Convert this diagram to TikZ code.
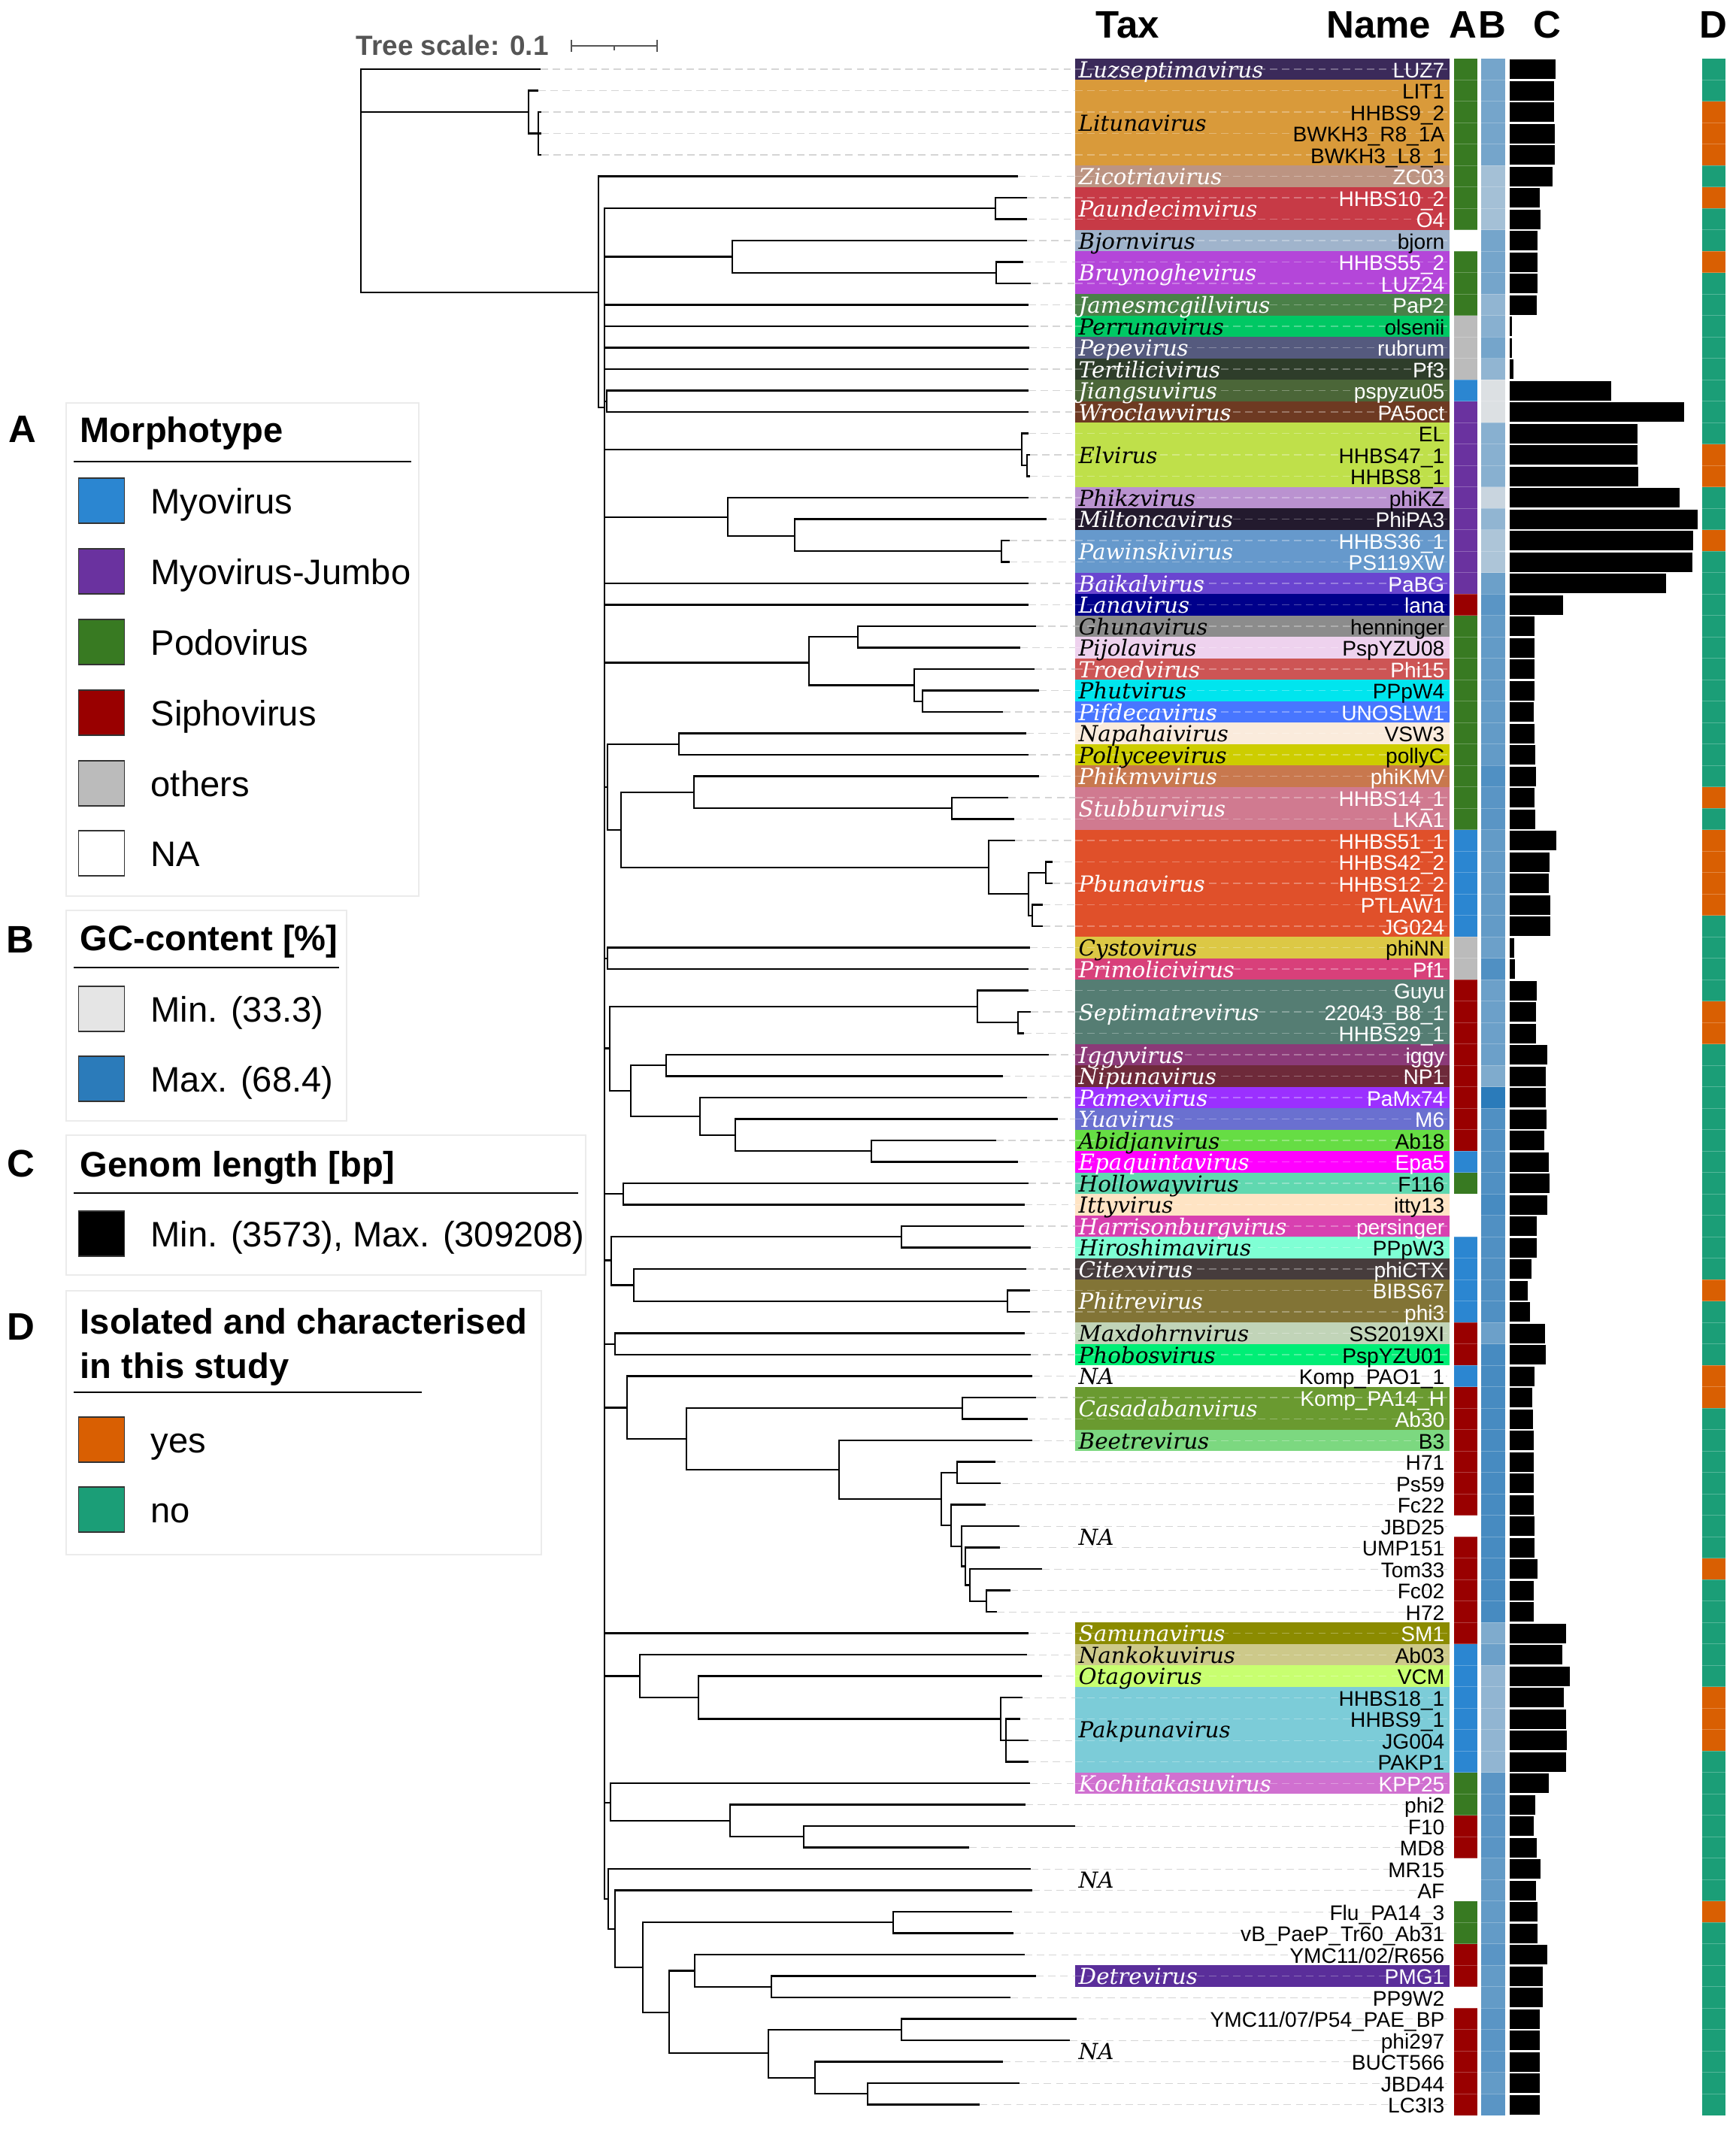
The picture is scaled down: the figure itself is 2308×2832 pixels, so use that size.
\documentclass[tikz,border=0pt]{standalone}
\usepackage{fontspec}
\setmainfont{Liberation Sans}
\newfontfamily\taxfont{DejaVu Serif}
\usetikzlibrary{calc}

%% row position (pixels, rows counted from 1)
\pgfmathdeclarefunction{rowy}{1}{\pgfmathparse{92+(#1-1)*28.5}}

\definecolor{legline}{HTML}{EBEBEB}
\definecolor{leader}{HTML}{D5D5D5}
\definecolor{scalegray}{HTML}{555555}
\definecolor{amy}{HTML}{2B86D1}
\definecolor{ajm}{HTML}{6A329F}
\definecolor{apo}{HTML}{387A22}
\definecolor{asi}{HTML}{990000}
\definecolor{aot}{HTML}{BBBBBB}
\colorlet{ana}{white}
\definecolor{gcmin}{HTML}{E5E5E5}
\definecolor{gcmax}{HTML}{2B7BBA}
\definecolor{dy}{HTML}{D95F02}
\definecolor{dn}{HTML}{1B9E77}
\colorlet{tw}{white}
\colorlet{tb}{black}

%% taxonomy bands: first row/last row/label/colour/text colour
\def\taxbands{1/1/Luzseptimavirus/3B2A5A/w,2/5/Litunavirus/D99A3A/b,
	6/6/Zicotriavirus/BC9482/w,7/8/Paundecimvirus/C73A46/w,9/9/Bjornvirus/A0B4CC/b,
	10/11/Bruynoghevirus/B446D9/w,12/12/Jamesmcgillvirus/4A8048/w,13/13/Perrunavirus/00C864/b,
	14/14/Pepevirus/555A7E/w,15/15/Tertilicivirus/2E3D2A/w,16/16/Jiangsuvirus/4B6638/w,
	17/17/Wroclawvirus/6E3A22/w,18/20/Elvirus/BFE04A/b,21/21/Phikzvirus/BA92D0/b,
	22/22/Miltoncavirus/231A2E/w,23/24/Pawinskivirus/6699CC/w,25/25/Baikalvirus/6A45D0/w,
	26/26/Lanavirus/00008B/w,27/27/Ghunavirus/8C8C8C/b,28/28/Pijolavirus/EED2EE/b,
	29/29/Troedvirus/CD5555/w,30/30/Phutvirus/00E5EE/b,31/31/Pifdecavirus/4876FF/w,
	32/32/Napahaivirus/FAEBDC/b,33/33/Pollyceevirus/CDCD00/b,34/34/Phikmvvirus/C8784E/w,
	35/36/Stubburvirus/D07A90/w,37/41/Pbunavirus/E0502A/w,42/42/Cystovirus/DCC845/b,
	43/43/Primolicivirus/D8407A/w,44/46/Septimatrevirus/557D73/w,47/47/Iggyvirus/8B3A78/w,
	48/48/Nipunavirus/6E2A3A/w,49/49/Pamexvirus/9B30FF/w,50/50/Yuavirus/6A70D0/w,
	51/51/Abidjanvirus/66DD44/b,52/52/Epaquintavirus/FF00FF/w,53/53/Hollowayvirus/60D8B0/b,
	54/54/Ittyvirus/FFE4C4/b,55/55/Harrisonburgvirus/D840B0/w,56/56/Hiroshimavirus/7FFFD4/b,
	57/57/Citexvirus/463C3C/w,58/59/Phitrevirus/827436/w,60/60/Maxdohrnvirus/C1D4B8/b,
	61/61/Phobosvirus/00EE76/b,63/64/Casadabanvirus/6A9A30/w,65/65/Beetrevirus/7CD880/b,
	74/74/Samunavirus/8B8B00/w,75/75/Nankokuvirus/CDC98A/b,76/76/Otagovirus/C8FF70/b,
	77/80/Pakpunavirus/7CCCD8/b,81/81/Kochitakasuvirus/D070D0/w,90/90/Detrevirus/5A2E9A/w}

\begin{document}
\begin{tikzpicture}[x=0.01cm,y=-0.01cm]
		\tikzstyle{branch}=[line width=0.65pt,line join=miter]
		\tikzstyle{leadline}=[leader,line width=0.3pt,dash pattern=on 2.8pt off 1.8pt]
		\tikzstyle{leadwhite}=[white,opacity=.3,line width=0.3pt,dash pattern=on 2.8pt off 1.8pt]
		\tikzstyle{namelbl}=[font=\fontsize{8}{8}\selectfont,inner sep=0pt,anchor=base east]
		\tikzstyle{taxlbl}=[font=\taxfont\itshape\fontsize{8.35}{8.35}\selectfont,inner sep=0pt,anchor=base west]
		\tikzstyle{colhead}=[font=\bfseries\fontsize{14.5}{14.5}\selectfont,inner sep=0pt,anchor=base]
		\tikzstyle{letter}=[font=\bfseries\fontsize{14.5}{14.5}\selectfont,inner sep=0pt]
		\tikzstyle{legbox}=[draw=legline,line width=0.6pt]
		\tikzstyle{legtitle}=[font=\bfseries\fontsize{13.4}{13.4}\selectfont,inner sep=0pt,anchor=base west]
		\tikzstyle{legentry}=[font=\fontsize{13.4}{13.4}\selectfont,inner sep=0pt,anchor=base west]
		\tikzstyle{swatch}=[draw=black!80,line width=0.5pt,minimum width=0.61cm,minimum height=0.6cm,inner sep=0pt]
		\fill[white] (0,0) rectangle (2308,2832);
		\useasboundingbox (0,0) rectangle (2308,2832);
		%% tree scale
		\node[font=\bfseries\fontsize{10.5}{10.5}\selectfont,text=scalegray,inner sep=0pt,anchor=base west] (tscale) at (473,73) {Tree scale: 0.1};
		\coordinate (sbl) at (760,61);
		\coordinate (sbr) at (874,61);
		\draw[scalegray,line width=0.6pt] ($(sbl)+(0,-8)$) -- ($(sbl)+(0,8)$) (sbl) -- (sbr) ($(sbr)+(0,-8)$) -- ($(sbr)+(0,8)$);
		\draw[scalegray,line width=0.6pt] ($(sbl)!.5!(sbr)$) -- ++(0,6);
		%% tips
		\foreach \i/\x in {1/719,2/716,3/720,4/720,5/720,6/1354,7/1366,8/1366,9/1366,10/1361,
			11/1371,12/1368,13/1368,14/1369,15/1368,16/1368,17/1368,18/1368,19/1370,20/1370,
			21/1368,22/1392,23/1343,24/1343,25/1368,26/1368,27/1378,28/1357,29/1376,30/1382,
			31/1334,32/1365,33/1368,34/1382,35/1341,36/1349,37/1350,38/1400,39/1400,40/1387,
			41/1387,42/1370,43/1368,44/1368,45/1371,46/1362,47/1395,48/1334,49/1366,50/1407,
			51/1325,52/1354,53/1368,54/1363,55/1362,56/1371,57/1365,58/1370,59/1370,60/1363,
			61/1371,62/1373,63/1378,64/1367,65/1373,66/1324,67/1331,68/1311,69/1356,70/1330,
			71/1386,72/1344,73/1326,74/1368,75/1366,76/1386,77/1360,78/1357,79/1368,80/1368,
			81/1370,82/1364,83/1430,84/1289,85/1371,86/1373,87/1346,88/1348,89/1363,90/1378,
			91/1344,92/1432,93/1423,94/1334,95/1356,96/1303}
			\coordinate (t\i) at (\x,{rowy(\i)});
		%% inner nodes (name/x/row)
		\foreach \n/\x/\r in {root/480/6,lit/703/3,lit2/716/4,core/796/11.42,spine/804/16.8,
			paun/1324/7.5,bjo/974/9.75,bruy/1325/10.5,jia/807/16.5,elv/1359/18.75,elv2/1366/19.5,
			kz/968/21.9,kz2/1057/22.8,pawi/1332/23.5,ghu/1076/28.7,ghu1/1141/27.5,ghu2/1216/29.75,
			ghu3/1227/30.5,pod/808/34.5,napa/903/32.5,kmv/826/36.5,kmv1/923/34.75,stub/1266/35.5,
			pbu/1315/38.25,pbu1/1368/39.5,pbu2/1391/38.5,pbu3/1373/40.5,cys/808/42.5,sip/811/46.7,
			sept/1300/44.75,sept2/1354/45.5,igg/839/48.69,igg1/886/47.5,igg2/931/49.875,
			igg3/978/50.75,igg4/1159/51.5,hol/829/53.5,har/813/56.6,har1/1199/55.5,cit/843/57.75,
			phit/1340/58.5,max/818/60.5,kom/834/63.47,cas/913/64.93,cas1/1280/63.5,bee/1116/66.37,
			na1/1252/67.73,na2/1273/66.5,na3/1265/68.97,na4/1279/69.94,na5/1284/70.875,
			na6/1290/71.75,na7/1312/72.5,pak/851/76,pak1/929/77,pak2/1331/78,pak3/1338/79,
			koc/812/81.9,koc1/971/82.75,koc2/1069/83.5,low/809/86.4,low1/818/87.8,low2/855/89.6,
			flu/1188/87.5,low3/890/91.7,ymc/924/89.75,det/1026/90.5,low4/1022/93.6,ymc2/1199/92.5,
			low5/1084/94.75,jbd/1154/95.5}
			\coordinate (\n) at (\x,{rowy(\r)});
		%% branches
		\foreach \p/\c in {root/t1,root/lit,root/core,lit/t2,lit/lit2,lit2/t3,lit2/t4,lit2/t5,
			core/t6,core/spine,spine/paun,spine/bjo,spine/t12,spine/t13,spine/t14,spine/t15,
			spine/jia,spine/elv,spine/kz,spine/t25,spine/t26,spine/ghu,spine/pod,spine/cys,
			spine/sip,spine/hol,spine/har,spine/max,spine/kom,spine/t74,spine/pak,spine/koc,
			spine/low,paun/t7,paun/t8,bjo/t9,bjo/bruy,bruy/t10,bruy/t11,jia/t16,jia/t17,
			elv/t18,elv/elv2,elv2/t19,elv2/t20,kz/t21,kz/kz2,kz2/t22,kz2/pawi,pawi/t23,pawi/t24,
			ghu/ghu1,ghu/ghu2,ghu1/t27,ghu1/t28,ghu2/t29,ghu2/ghu3,ghu3/t30,ghu3/t31,
			pod/napa,pod/kmv,napa/t32,napa/t33,kmv/kmv1,kmv/pbu,kmv1/t34,kmv1/stub,stub/t35,
			stub/t36,pbu/t37,pbu/pbu1,pbu1/pbu2,pbu1/pbu3,pbu2/t38,pbu2/t39,pbu3/t40,pbu3/t41,
			cys/t42,cys/t43,sip/sept,sip/igg,sept/t44,sept/sept2,sept2/t45,sept2/t46,
			igg/igg1,igg/igg2,igg1/t47,igg1/t48,igg2/t49,igg2/igg3,igg3/t50,igg3/igg4,
			igg4/t51,igg4/t52,hol/t53,hol/t54,har/har1,har/cit,har1/t55,har1/t56,cit/t57,
			cit/phit,phit/t58,phit/t59,max/t60,max/t61,kom/t62,kom/cas,cas/cas1,cas/bee,
			cas1/t63,cas1/t64,bee/t65,bee/na1,na1/na2,na1/na3,na2/t66,na2/t67,na3/t68,na3/na4,
			na4/t69,na4/na5,na5/t70,na5/na6,na6/t71,na6/na7,na7/t72,na7/t73,pak/t75,pak/pak1,
			pak1/t76,pak1/pak2,pak2/t77,pak2/pak3,pak3/t78,pak3/t79,pak3/t80,koc/t81,koc/koc1,
			koc1/t82,koc1/koc2,koc2/t83,koc2/t84,low/t85,low/low1,low1/t86,low1/low2,
			low2/flu,low2/low3,flu/t87,flu/t88,low3/ymc,low3/low4,ymc/t89,ymc/det,det/t90,
			det/t91,low4/ymc2,low4/low5,ymc2/t92,ymc2/t93,low5/t94,low5/jbd,jbd/t95,jbd/t96}
			\draw[branch] (\p) |- (\c);
		%% leaders
		\foreach \i in {1,...,96}
			\draw[leadline] (t\i) -- (1925,{rowy(\i)});
		%% taxonomy bands
		\foreach \a/\b/\nm/\hx/\tc in \taxbands {
			\definecolor{bandc}{HTML}{\hx}
			\fill[bandc] (1430,{rowy(\a)-14.25}) rectangle (1928,{rowy(\b)+14.25});
			\foreach \k in {\a,...,\b}
				\draw[leadwhite] (1430,{rowy(\k)}) -- (1925,{rowy(\k)});
		}
		\foreach \a/\b/\nm/\hx/\tc in \taxbands
			\node[taxlbl,text=t\tc] (tax\a) at (1434,{rowy((\a+\b)/2)+11}) {\nm};
		%% unassigned groups
		\foreach \r/\g in {62/a,69.5/b,85.5/c,93.5/d}
			\node[taxlbl] (taxna\g) at (1434,{rowy(\r)+11}) {NA};
		%% rows: name, A, B, C, D
		\foreach \i/\nm/\tc/\A/\B/\C/\D in {1/LUZ7/w/po/60/2069/n,2/LIT1/b/po/60/2067/n,
			3/HHBS9\_2/b/po/60/2067/y,4/BWKH3\_R8\_1A/b/po/60/2068/y,5/BWKH3\_L8\_1/b/po/60/2068/y,
			6/ZC03/w/po/35/2065/n,7/HHBS10\_2/w/po/35/2048/y,8/O4/w/po/35/2049/n,
			9/bjorn/b/na/60/2045/n,10/HHBS55\_2/w/po/60/2045/y,11/LUZ24/w/po/60/2045/n,
			12/PaP2/w/po/45/2044/n,13/olsenii/b/ot/50/2011/n,14/rubrum/w/ot/60/2011/n,
			15/Pf3/w/ot/45/2013/n,16/pspyzu05/w/my/5/2143/n,17/PA5oct/w/jm/5/2240/n,
			18/EL/b/jm/50/2178/n,19/HHBS47\_1/b/jm/50/2178/y,20/HHBS8\_1/b/jm/50/2179/y,
			21/phiKZ/b/jm/15/2234/n,22/PhiPA3/w/jm/45/2258/n,23/HHBS36\_1/w/jm/30/2252/y,
			24/PS119XW/w/jm/30/2251/n,25/PaBG/w/jm/65/2216/n,26/lana/w/si/75/2079/n,
			27/henninger/b/po/70/2041/n,28/PspYZU08/b/po/70/2041/n,29/Phi15/w/po/70/2041/n,
			30/PPpW4/b/po/70/2041/n,31/UNOSLW1/w/po/70/2040/n,32/VSW3/b/po/70/2041/n,
			33/pollyC/b/po/70/2042/n,34/phiKMV/w/po/80/2043/n,35/HHBS14\_1/w/po/75/2041/y,
			36/LKA1/w/po/75/2042/n,37/HHBS51\_1/w/my/70/2070/y,38/HHBS42\_2/w/my/70/2061/y,
			39/HHBS12\_2/w/my/70/2060/y,40/PTLAW1/w/my/70/2062/y,41/JG024/w/my/70/2062/n,
			42/phiNN/b/ot/65/2014/n,43/Pf1/w/ot/80/2015/n,44/Guyu/w/si/65/2044/n,
			45/22043\_B8\_1/w/si/65/2043/y,46/HHBS29\_1/w/si/65/2043/y,47/iggy/w/si/65/2058/n,
			48/NP1/w/si/55/2056/n,49/PaMx74/w/si/100/2056/n,50/M6/w/si/80/2057/n,
			51/Ab18/b/si/80/2054/n,52/Epa5/w/my/80/2060/n,53/F116/b/po/80/2061/n,
			54/itty13/b/na/85/2058/n,55/persinger/w/na/80/2044/n,56/PPpW3/b/my/80/2044/n,
			57/phiCTX/w/my/80/2037/n,58/BIBS67/w/my/80/2032/y,59/phi3/w/my/80/2035/n,
			60/SS2019XI/b/si/65/2055/n,61/PspYZU01/b/si/85/2056/n,62/Komp\_PAO1\_1/b/my/85/2041/y,
			63/Komp\_PA14\_H/w/si/85/2038/y,64/Ab30/w/si/85/2039/n,65/B3/b/si/85/2040/n,
			66/H71/b/si/85/2040/n,67/Ps59/b/si/85/2040/n,68/Fc22/b/si/85/2040/n,
			69/JBD25/b/na/85/2041/n,70/UMP151/b/si/85/2041/n,71/Tom33/b/si/85/2045/y,
			72/Fc02/b/si/85/2040/n,73/H72/b/si/85/2040/n,74/SM1/w/si/55/2083/n,
			75/Ab03/b/my/65/2078/n,76/VCM/b/my/45/2088/n,77/HHBS18\_1/b/my/45/2080/y,
			78/HHBS9\_1/b/my/45/2083/y,79/JG004/b/my/45/2084/y,80/PAKP1/b/my/45/2083/n,
			81/KPP25/w/po/75/2060/n,82/phi2/b/po/75/2042/n,83/F10/b/si/75/2040/n,
			84/MD8/b/si/75/2044/n,85/MR15/b/na/70/2049/n,86/AF/b/na/70/2043/n,
			87/Flu\_PA14\_3/b/po/70/2045/y,88/vB\_PaeP\_Tr60\_Ab31/b/po/70/2045/n,
			89/{YMC11/02/R656}/b/si/75/2058/n,90/PMG1/w/si/70/2052/n,91/PP9W2/b/na/70/2052/n,
			92/{YMC11/07/P54\_PAE\_BP}/b/si/75/2048/n,93/phi297/b/si/75/2048/n,
			94/BUCT566/b/si/75/2048/n,95/JBD44/b/si/70/2048/n,96/LC3I3/b/si/75/2048/n}{
			\fill[a\A] (1934,{rowy(\i)-14.25}) rectangle (1965,{rowy(\i)+14.25});
			\fill[gcmax!\B!gcmin] (1970,{rowy(\i)-14.25}) rectangle (2002,{rowy(\i)+14.25});
			\fill[black] (2008,{rowy(\i)-13}) rectangle (\C,{rowy(\i)+13});
			\fill[d\D] (2264,{rowy(\i)-14.25}) rectangle (2295,{rowy(\i)+14.25});
			\node[namelbl,text=t\tc] (nm\i) at (1922,{rowy(\i)+11}) {\nm};
		}
		%% faint row separators
		\foreach \i in {1,...,95}{
			\draw[white,opacity=.25,line width=0.3pt] (1934,{rowy(\i)+14.25}) -- (2002,{rowy(\i)+14.25});
			\draw[white,opacity=.25,line width=0.3pt] (2264,{rowy(\i)+14.25}) -- (2295,{rowy(\i)+14.25});
		}
		%% column heads
		\node[colhead,anchor=base west] (hTax) at (1457,50) {Tax};
		\node[colhead,anchor=base east] (hName) at (1904,50) {Name};
		\node[colhead] (hA) at (1946,50) {A};
		\node[colhead] (hB) at (1985,50) {B};
		\node[colhead] (hC) at (2058,50) {C};
		\node[colhead] (hD) at (2279,50) {D};
		%% legend A
		\draw[legbox] (88,536) rectangle (557,1192);
		\node[letter] (lA) at (30,571) {A};
		\node[legtitle] (ttlA) at (106,588) {Morphotype};
		\draw[line width=0.5pt] (98,614) -- (547,614);
		\foreach \y/\c/\t in {666/amy/Myovirus,760/ajm/Myovirus-Jumbo,854/apo/Podovirus,
			948/asi/Siphovirus,1042/aot/others,1135/ana/NA}{
			\node[swatch,fill=\c] (sw\c) at (135,\y) {};
			\node[legentry] (en\c) at (200,\y+17) {\t};
		}
		%% legend B
		\draw[legbox] (88,1211) rectangle (461,1491);
		\node[letter] (lB) at (27,1250) {B};
		\node[legtitle] (ttlB) at (106,1264) {GC-content [\%]};
		\draw[line width=0.5pt] (98,1287) -- (451,1287);
		\foreach \y/\c/\t in {1342/gcmin/Min. (33.3),1435/gcmax/Max. (68.4)}{
			\node[swatch,fill=\c] (sw\c) at (135,\y) {};
			\node[legentry] (en\c) at (200,\y+17) {\t};
		}
		%% legend C
		\draw[legbox] (88,1510) rectangle (779,1696);
		\node[letter] (lC) at (28,1548) {C};
		\node[legtitle] (ttlC) at (106,1565) {Genom length [bp]};
		\draw[line width=0.5pt] (98,1587) -- (769,1587);
		\node[swatch,fill=black] (swlen) at (135,1641) {};
		\node[legentry] (enlen) at (200,1658) {Min. (3573), Max. (309208)};
		%% legend D
		\draw[legbox] (88,1717) rectangle (720,2068);
		\node[letter] (lD) at (28,1765) {D};
		\node[legtitle] (ttlD) at (106,1774) {Isolated and characterised};
		\node[legtitle] (ttlD2) at (106,1833) {in this study};
		\draw[line width=0.5pt] (98,1852) -- (561,1852);
		\foreach \y/\c/\t in {1915/dy/yes,2008/dn/no}{
			\node[swatch,fill=\c] (sw\c) at (135,\y) {};
			\node[legentry] (en\c) at (200,\y+17) {\t};
		}
\end{tikzpicture}
\end{document}
